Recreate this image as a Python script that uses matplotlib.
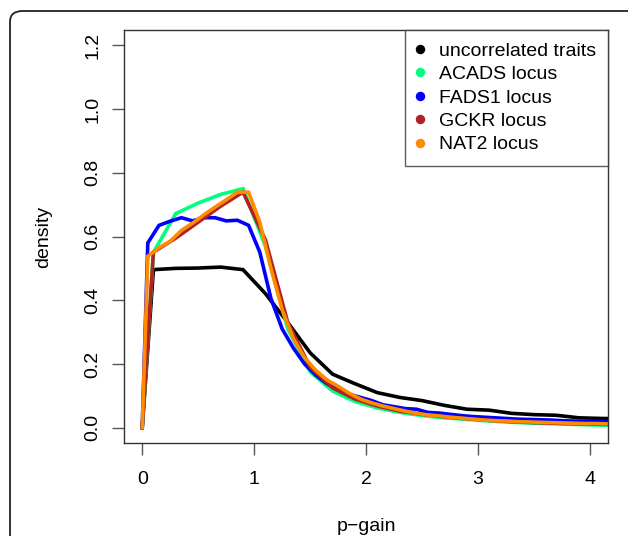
import matplotlib
matplotlib.use("Agg")
import matplotlib.pyplot as plt
from matplotlib.lines import Line2D
from matplotlib.patches import FancyBboxPatch

plt.rcParams['font.family'] = ['Liberation Sans', 'DejaVu Sans']

# ---- data ----
x_coarse = [0, 0.1, 0.3, 0.5, 0.7, 0.9, 1.1, 1.3, 1.5, 1.7, 1.9, 2.1, 2.3, 2.5,
            2.7, 2.9, 3.1, 3.3, 3.5, 3.7, 3.9, 4.1, 4.3]
x_fine = [0, 0.05, 0.15, 0.25, 0.35, 0.45, 0.55, 0.65, 0.75, 0.85, 0.95, 1.05,
          1.15, 1.25, 1.35, 1.45, 1.55, 1.65, 1.75, 1.85, 1.95, 2.05, 2.15, 2.25,
          2.35, 2.45, 2.55, 2.65, 2.75, 2.85, 2.95, 3.05, 3.15, 3.25, 3.35, 3.45,
          3.55, 3.65, 3.75, 3.85, 3.95, 4.05, 4.15, 4.25]

uncorrelated = [0, 0.496, 0.500, 0.501, 0.504, 0.496, 0.421, 0.33, 0.235, 0.168,
                0.138, 0.110, 0.095, 0.085, 0.070, 0.058, 0.055, 0.045, 0.041,
                0.039, 0.031, 0.029, 0.028]
acads = [0, 0.55, 0.672, 0.705, 0.732, 0.75, 0.57, 0.31, 0.175, 0.115, 0.082,
         0.062, 0.048, 0.038, 0.031, 0.026, 0.021, 0.017, 0.014, 0.012, 0.010,
         0.008, 0.007]
gckr = [0, 0.551, 0.595, 0.645, 0.695, 0.739, 0.59, 0.33, 0.19, 0.125, 0.09,
        0.068, 0.052, 0.042, 0.034, 0.028, 0.023, 0.019, 0.016, 0.014, 0.012,
        0.011, 0.010]
fads1 = [0, 0.58, 0.635, 0.648, 0.659, 0.649, 0.659, 0.659, 0.649, 0.651, 0.635,
         0.551, 0.405, 0.31, 0.25, 0.20, 0.165, 0.138, 0.118, 0.105, 0.095, 0.085,
         0.072, 0.066, 0.060, 0.058, 0.048, 0.046, 0.042, 0.038, 0.035, 0.033,
         0.031, 0.029, 0.027, 0.026, 0.025, 0.024, 0.022, 0.021, 0.020, 0.020,
         0.019, 0.019]
nat2 = [0, 0.538, 0.565, 0.585, 0.619, 0.642, 0.668, 0.692, 0.715, 0.739, 0.739,
        0.645, 0.50, 0.37, 0.28, 0.22, 0.18, 0.15, 0.13, 0.108, 0.09, 0.078, 0.068,
        0.060, 0.052, 0.045, 0.040, 0.037, 0.033, 0.030, 0.027, 0.024, 0.022,
        0.021, 0.019, 0.018, 0.017, 0.016, 0.015, 0.014, 0.013, 0.013, 0.012,
        0.012]

labels = ["uncorrelated traits", "ACADS locus", "FADS1 locus", "GCKR locus", "NAT2 locus"]
colors = ["#000000", "#00FF7F", "#0000FF", "#B22222", "#FF8C00"]
xticks = [0, 1, 2, 3, 4]
yticks = [0.0, 0.2, 0.4, 0.6, 0.8, 1.0, 1.2]

W, H = 628, 536
FS = 14
fig = plt.figure(figsize=(W / 100, H / 100), dpi=100)

# outer rounded frame (cut off at right/bottom)
frame = FancyBboxPatch((10 / W, -0.2), 1.2, (H - 11) / H + 0.2,
                       boxstyle="round,pad=0,rounding_size=0.02",
                       transform=fig.transFigure, fill=False,
                       edgecolor="#222222", linewidth=1.3, clip_on=False)
fig.patches.append(frame)

ax = fig.add_axes([124.3 / W, (H - 443) / H, (608 - 124.3) / W, (443 - 30) / H])

series = [(x_coarse, uncorrelated), (x_coarse, acads), (x_fine, fads1),
          (x_coarse, gckr), (x_fine, nat2)]
for (xs, ys), c in zip(series, colors):
    ax.plot(xs, ys, color=c, linewidth=2.6, solid_joinstyle='miter')

ax.set_xlim(-0.16, 4.16)
ax.set_ylim(-0.048, 1.248)
ax.set_xticks(xticks)
ax.set_xticklabels([str(t) for t in xticks])
ax.set_yticks(yticks)
ax.set_yticklabels([f"{t:.1f}" for t in yticks], rotation=90, va='center')

for s in ax.spines.values():
    s.set_color("#333333")
    s.set_linewidth(1.0)
ax.tick_params(axis='both', direction='out', length=8.5, width=1.0,
               color="#555555", labelsize=FS)
ax.tick_params(axis='x', pad=11.5)
ax.tick_params(axis='y', pad=8)

ax.set_xlabel("p\u2212gain", fontsize=FS, labelpad=22)
ax.set_ylabel("density", fontsize=FS, labelpad=23)

handles = [Line2D([], [], linestyle='none', marker='o', markersize=5.8,
                  markerfacecolor=c, markeredgecolor=c) for c in colors]
leg = ax.legend(handles, labels, loc='upper right', fontsize=FS,
                frameon=True, fancybox=False, borderaxespad=0,
                handlelength=0.25, handletextpad=0.85, labelspacing=0.3,
                borderpad=0.62)
leg.get_frame().set_edgecolor("#333333")
leg.get_frame().set_linewidth(1.0)

fig.savefig("out.png", dpi=100)
